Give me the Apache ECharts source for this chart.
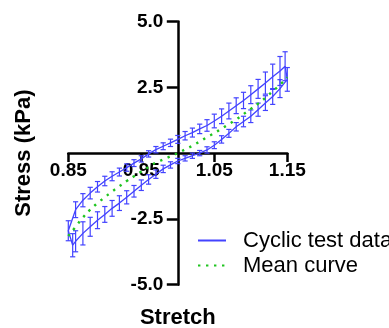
<!DOCTYPE html>
<html><head><meta charset="utf-8">
<script src="https://cdn.jsdelivr.net/npm/echarts@6/dist/echarts.min.js"></script>
<style>html,body{margin:0;padding:0;background:#fff}#c{width:389px;height:328px}</style>
</head><body><div id="c"></div>
<script>
// Loading branch (lower curve)
const lowerStretch = [0.856, 0.86, 0.87, 0.88, 0.89, 0.90, 0.91, 0.92, 0.93, 0.94, 0.95, 0.96, 0.97, 0.98, 0.99, 1.00, 1.01, 1.02, 1.03, 1.04, 1.05, 1.06, 1.07, 1.08, 1.09, 1.10, 1.11, 1.12, 1.13, 1.14, 1.15];
const lowerStress = [-3.5, -3.35, -3.05, -2.8, -2.55, -2.33, -2.1, -1.9, -1.68, -1.45, -1.22, -1.0, -0.8, -0.6, -0.45, -0.3, -0.2, -0.1, 0.0, 0.12, 0.3, 0.52, 0.75, 1.0, 1.2, 1.4, 1.65, 1.9, 2.15, 2.45, 2.8];
const lowerErr = [0.44, 0.4, 0.44, 0.36, 0.32, 0.3, 0.3, 0.28, 0.25, 0.22, 0.2, 0.18, 0.16, 0.14, 0.12, 0.1, 0.1, 0.1, 0.1, 0.12, 0.13, 0.14, 0.15, 0.16, 0.2, 0.24, 0.25, 0.28, 0.3, 0.34, 0.45];
// Unloading branch (upper curve)
const upperStretch = [0.85, 0.86, 0.87, 0.88, 0.89, 0.90, 0.91, 0.92, 0.93, 0.94, 0.95, 0.96, 0.97, 0.98, 0.99, 1.00, 1.01, 1.02, 1.03, 1.04, 1.05, 1.06, 1.07, 1.08, 1.09, 1.10, 1.11, 1.12, 1.13, 1.14, 1.147];
const upperStress = [-2.95, -2.15, -1.79, -1.52, -1.28, -1.06, -0.88, -0.72, -0.55, -0.38, -0.22, -0.03, 0.13, 0.26, 0.39, 0.52, 0.66, 0.78, 0.92, 1.05, 1.22, 1.40, 1.60, 1.80, 2.00, 2.22, 2.44, 2.66, 2.90, 3.12, 3.3];
const upperErr = [0.38, 0.3, 0.25, 0.22, 0.2, 0.18, 0.17, 0.15, 0.14, 0.13, 0.12, 0.12, 0.12, 0.13, 0.14, 0.15, 0.16, 0.17, 0.18, 0.22, 0.26, 0.28, 0.3, 0.3, 0.31, 0.34, 0.36, 0.42, 0.48, 0.55, 0.55];
// Mean curve
const meanStretch = [0.85, 0.86, 0.87, 0.88, 0.89, 0.90, 0.91, 0.92, 0.93, 0.94, 0.95, 0.96, 0.97, 0.98, 0.99, 1.00, 1.01, 1.02, 1.03, 1.04, 1.05, 1.06, 1.07, 1.08, 1.09, 1.10, 1.11, 1.12, 1.13, 1.14, 1.15];
const meanStress = [-3.15, -2.8, -2.45, -2.15, -1.9, -1.68, -1.46, -1.26, -1.06, -0.88, -0.7, -0.53, -0.36, -0.24, -0.12, 0.0, 0.14, 0.28, 0.44, 0.6, 0.76, 0.93, 1.1, 1.28, 1.48, 1.68, 1.88, 2.1, 2.35, 2.6, 2.88];
// Tick labels
const xTicks = [0.85, 0.95, 1.05, 1.15];
const yTicks = [-5, -2.5, 2.5, 5];

const FONT = "'Liberation Sans', Arial, sans-serif";
const BLUE = '#4343ff';
const GREEN = '#1fc41f';

const loop = lowerStretch.map((x, i) => [x, lowerStress[i]])
  .concat(upperStretch.map((x, i) => [x, upperStress[i]]).reverse());
loop.push(loop[0]);
const bars = lowerStretch.map((x, i) => [x, lowerStress[i], lowerErr[i]])
  .concat(upperStretch.map((x, i) => [x, upperStress[i], upperErr[i]]));
const mean = meanStretch.map((x, i) => [x, meanStress[i]]);

const chart = echarts.init(document.getElementById('c'), null, {renderer: 'canvas'});
const gridLeft = 68.3, gridRight = 389 - 287.3;
const gridTop = 21.5, gridBottom = 328 - 284.7;
const plotW = 389 - gridLeft - gridRight;
const plotH = 328 - gridTop - gridBottom;
chart.setOption({
  animation: false,
  grid: {left: gridLeft, right: gridRight, top: gridTop, bottom: gridBottom, containLabel: false, outerBoundsMode: 'none'},
  legend: {
    orient: 'vertical', left: 192, top: 223, itemWidth: 28, itemHeight: 14, itemGap: 0,
    itemStyle: {opacity: 0},
    textStyle: {fontSize: 22, fontFamily: FONT, color: '#000', lineHeight: 25, padding: [0, 0, 0, 12]},
    data: ['Cyclic test data', 'Mean curve']
  },
  xAxis: {
    type: 'value', min: 0.85, max: 1.15, position: 'bottom',
    offset: -(plotH / 2),
    name: 'Stretch', nameLocation: 'middle', nameGap: 154,
    nameTextStyle: {fontSize: 22, fontWeight: 'bold', color: '#000', fontFamily: FONT},
    axisLine: {onZero: false, lineStyle: {color: '#000', width: 2.5}},
    axisTick: {show: true, customValues: xTicks, length: 9, lineStyle: {color: '#000', width: 2.5}},
    axisLabel: {customValues: xTicks, formatter: v => v.toFixed(2), fontSize: 19, fontWeight: 'bold', color: '#000', fontFamily: FONT, margin: 8},
    splitLine: {show: false}
  },
  yAxis: {
    type: 'value', min: -5, max: 5, position: 'left',
    offset: -(plotW / 2),
    name: 'Stress (kPa)', nameLocation: 'middle', nameGap: 143, nameRotate: 90,
    nameTextStyle: {fontSize: 22, fontWeight: 'bold', color: '#000', fontFamily: FONT},
    axisLine: {show: true, onZero: false, lineStyle: {color: '#000', width: 2.5}},
    axisTick: {show: true, customValues: yTicks, length: 11, lineStyle: {color: '#000', width: 2.5}},
    axisLabel: {customValues: yTicks, formatter: v => v.toFixed(1), fontSize: 19, fontWeight: 'bold', color: '#000', fontFamily: FONT, margin: 14.5},
    splitLine: {show: false}
  },
  series: [
    {
      name: 'Cyclic test data', type: 'line', data: loop, symbol: 'none',
      lineStyle: {color: BLUE, width: 1.3}, itemStyle: {color: BLUE}, z: 3
    },
    {
      type: 'custom', data: bars, z: 4,
      renderItem: function (params, api) {
        const x = api.value(0), y = api.value(1), e = api.value(2);
        const top = api.coord([x, y + e]);
        const bot = api.coord([x, y - e]);
        const hw = 2.6;
        const st = {stroke: BLUE, lineWidth: 1.2};
        return {type: 'group', children: [
          {type: 'line', shape: {x1: top[0], y1: top[1], x2: bot[0], y2: bot[1]}, style: st},
          {type: 'line', shape: {x1: top[0] - hw, y1: top[1], x2: top[0] + hw, y2: top[1]}, style: st},
          {type: 'line', shape: {x1: bot[0] - hw, y1: bot[1], x2: bot[0] + hw, y2: bot[1]}, style: st}
        ]};
      }
    },
    {
      name: 'Mean curve', type: 'line', data: mean, symbol: 'none', smooth: true,
      lineStyle: {color: GREEN, width: 2.4, type: [2.4, 5.6]}, itemStyle: {color: GREEN}, z: 5
    }
  ]
});
</script>
</body></html>
